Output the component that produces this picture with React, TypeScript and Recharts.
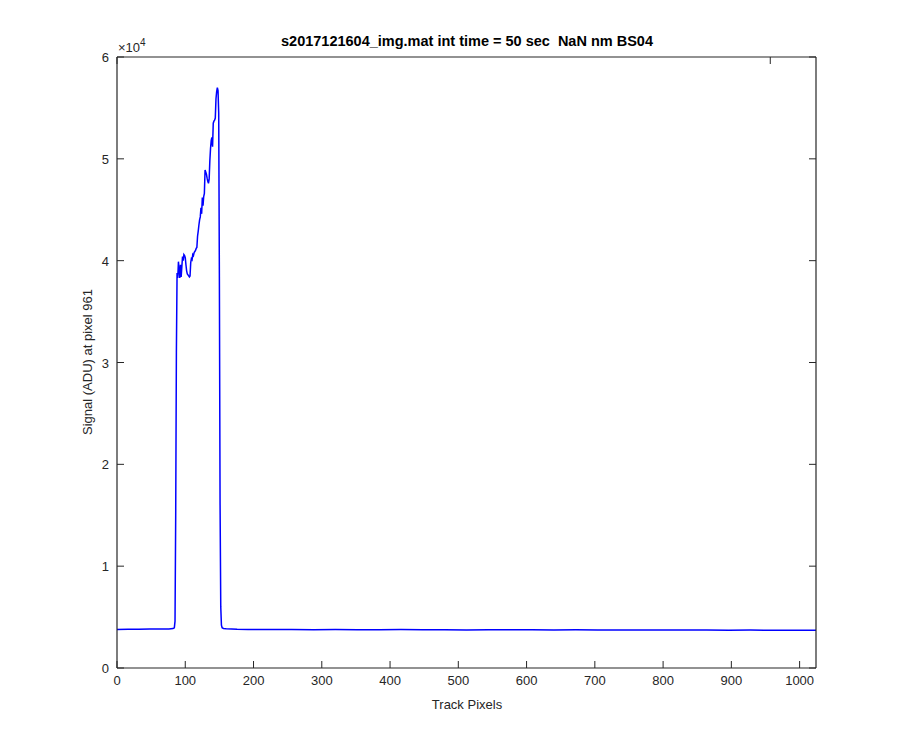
import React from 'react'
import { LineChart, Line, XAxis, YAxis } from 'recharts'

// track pixel positions and the signal
const pixels = [
  0, 16, 32, 48, 64, 76, 82, 84, 85, 86, 87, 88, 89, 90, 91, 92, 93, 94, 95, 96, 97, 98, 99,
  100, 101, 102, 103, 104, 105, 106, 107, 108, 109, 110, 111, 112, 113, 114, 115, 116, 117,
  118, 119, 120, 121, 122, 123, 124, 125, 126, 127, 128, 129, 130, 131, 132, 133, 134, 135,
  136, 137, 138, 139, 140, 141, 142, 143, 144, 145, 146, 147, 148, 149, 150, 151, 152, 153,
  154, 156, 160, 176, 192, 224, 256, 288, 320, 352, 384, 416, 448, 480, 512, 544, 576, 608,
  640, 672, 704, 736, 768, 800, 832, 864, 896, 928, 960, 992, 1024,
]
const signal = [
  3790, 3810, 3800, 3820, 3830, 3840, 3870, 3950, 4600, 15000, 31000, 38800, 38300, 39900,
  39100, 38300, 39600, 38400, 39400, 40400, 40000, 40600, 40500, 40300, 39600, 39000, 38700,
  38600, 38500, 38400, 38500, 39800, 40200, 40100, 40600, 40500, 40800, 40900, 41000, 41200,
  41300, 42400, 42900, 43500, 44000, 44300, 45200, 44600, 46200, 45400, 46300, 46600, 48900,
  48700, 48500, 48100, 47800, 47600, 48000, 49800, 51000, 51800, 52100, 51200, 53500, 53700,
  53800, 54000, 55900, 56600, 57000, 56700, 54500, 38000, 16000, 6000, 4200, 3950, 3880,
  3850, 3800, 3790, 3770, 3780, 3760, 3770, 3750, 3760, 3770, 3750, 3760, 3740, 3750, 3760,
  3750, 3740, 3750, 3730, 3740, 3730, 3740, 3720, 3730, 3710, 3720, 3700, 3710, 3700,
]
const xTicks = [0, 100, 200, 300, 400, 500, 600, 700, 800, 900, 1000]
const yTicks = [0, 10000, 20000, 30000, 40000, 50000, 60000]

const data = pixels.map((p, i) => ({ pixel: p, signal: signal[i] }))

const AXIS = '#262626'
const FONT = '"Liberation Sans", Arial, Helvetica, sans-serif'
const TICK = 7

function BottomTick(props: any) {
  const { x, y, payload } = props
  return (
    <g>
      <line x1={x} y1={y} x2={x} y2={y - TICK} stroke={AXIS} strokeWidth={1} />
      <text x={x} y={y + 17} textAnchor="middle" fill={AXIS} fontSize={13} fontFamily={FONT}>
        {payload.value}
      </text>
    </g>
  )
}

function TopTick(props: any) {
  const { x, y } = props
  return <line x1={x} y1={y} x2={x} y2={y + TICK} stroke={AXIS} strokeWidth={1} />
}

function LeftTick(props: any) {
  const { x, y, payload } = props
  return (
    <g>
      <line x1={x} y1={y} x2={x + TICK} y2={y} stroke={AXIS} strokeWidth={1} />
      <text x={x - 8} y={y + 5} textAnchor="end" fill={AXIS} fontSize={13} fontFamily={FONT}>
        {payload.value / 10000}
      </text>
    </g>
  )
}

function RightTick(props: any) {
  const { x, y } = props
  return <line x1={x} y1={y} x2={x - TICK} y2={y} stroke={AXIS} strokeWidth={1} />
}

export default function App() {
  return (
    <div style={{ position: 'absolute', left: 0, top: 0, width: 900, height: 750, background: '#fff', fontFamily: FONT }}>
      <LineChart
        width={900}
        height={750}
        data={data}
        margin={{ top: 47, right: 74, bottom: 52, left: 77 }}
      >
        <XAxis
          xAxisId="bottom"
          dataKey="pixel"
          type="number"
          domain={[0, 1024]}
          ticks={xTicks}
          interval={0}
          allowDataOverflow
          height={30}
          tickSize={0}
          tickMargin={0}
          tickLine={false}
          axisLine={{ stroke: AXIS, strokeWidth: 1.2 }}
          tick={<BottomTick />}
        />
        <XAxis
          xAxisId="top"
          orientation="top"
          type="number"
          domain={[0, 1024]}
          ticks={xTicks}
          interval={0}
          allowDataOverflow
          height={10}
          tickSize={0}
          tickMargin={0}
          tickLine={false}
          axisLine={{ stroke: AXIS, strokeWidth: 1.2 }}
          tick={<TopTick />}
        />
        <YAxis
          yAxisId="left"
          type="number"
          domain={[0, 60000]}
          ticks={yTicks}
          interval={0}
          allowDataOverflow
          width={40}
          tickSize={0}
          tickMargin={0}
          tickLine={false}
          axisLine={{ stroke: AXIS, strokeWidth: 1.2 }}
          tick={<LeftTick />}
        />
        <YAxis
          yAxisId="right"
          orientation="right"
          type="number"
          domain={[0, 60000]}
          ticks={yTicks}
          interval={0}
          allowDataOverflow
          width={10}
          tickSize={0}
          tickMargin={0}
          tickLine={false}
          axisLine={{ stroke: AXIS, strokeWidth: 1.2 }}
          tick={<RightTick />}
        />
        <Line
          xAxisId="bottom"
          yAxisId="left"
          type="linear"
          dataKey="signal"
          stroke="#0000ff"
          strokeWidth={1.5}
          dot={false}
          isAnimationActive={false}
        />
      </LineChart>
      <svg
        width={900}
        height={750}
        style={{ position: 'absolute', left: 0, top: 0, pointerEvents: 'none' }}
      >
        <text
          x={467}
          y={46}
          textAnchor="middle"
          fontSize={14.5}
          fontWeight="bold"
          fill="#000"
          fontFamily={FONT}
          style={{ whiteSpace: 'pre' }}
          xmlSpace="preserve"
        >
          {'s2017121604_img.mat int time = 50 sec  NaN nm BS04'}
        </text>
        <text x={118} y={52} fontSize={13} fill={AXIS} fontFamily={FONT}>
          ×10
          <tspan fontSize={10} dy={-6}>4</tspan>
        </text>
        <text
          x={92}
          y={362}
          textAnchor="middle"
          fontSize={13}
          fill={AXIS}
          fontFamily={FONT}
          transform="rotate(-90 92 362)"
        >
          Signal (ADU) at pixel 961
        </text>
        <text x={467} y={709} textAnchor="middle" fontSize={13} fill={AXIS} fontFamily={FONT}>
          Track Pixels
        </text>
      </svg>
    </div>
  )
}
